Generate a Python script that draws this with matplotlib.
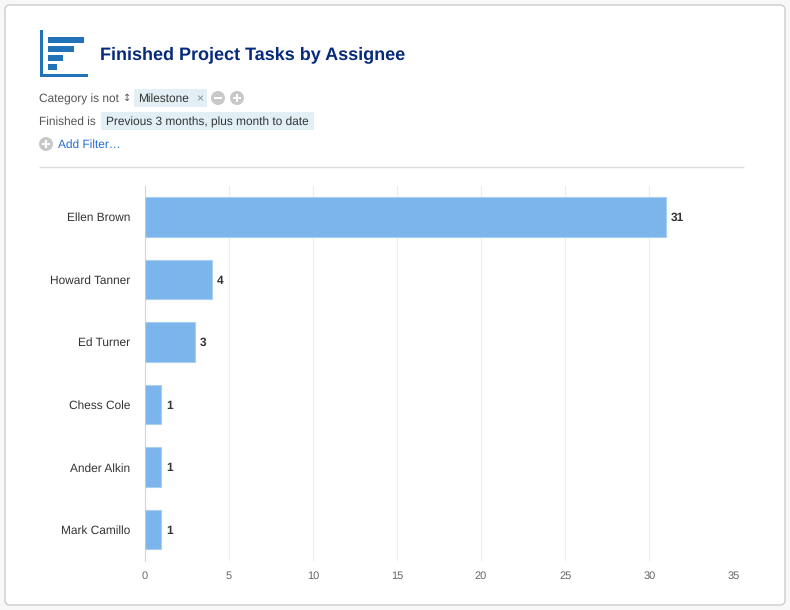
import matplotlib
matplotlib.use('Agg')
import matplotlib.pyplot as plt
from matplotlib.patches import Rectangle, FancyBboxPatch, Circle

plt.rcParams['font.family'] = ['Liberation Sans', 'DejaVu Sans']
plt.rcParams['text.hinting'] = 'no_hinting'

# data
assignees = ['Ellen Brown', 'Howard Tanner', 'Ed Turner', 'Chess Cole', 'Ander Alkin', 'Mark Camillo']
tasks = [31, 4, 3, 1, 1, 1]
x_ticks = [0, 5, 10, 15, 20, 25, 30, 35]
icon_bar_widths = [36, 26, 15, 9]

W, H = 790, 610
fig = plt.figure(figsize=(W / 100, H / 100), dpi=100, facecolor='#f8f8f8')

# -----------------------------
# page layer, in pixels
bg = fig.add_axes([0, 0, 1, 1])
bg.set_xlim(0, W)
bg.set_ylim(H, 0)
bg.axis('off')

bg.add_patch(FancyBboxPatch((5, 5), 780, 600, boxstyle='round,pad=0,rounding_size=5',
                            fc='white', ec='#cccccc', lw=1))

# icon
bg.add_patch(Rectangle((40, 30), 3, 47, fc='#2272b8', ec='none'))
bg.add_patch(Rectangle((40, 74), 48, 3, fc='#2272b8', ec='none'))
for i, w in enumerate(icon_bar_widths):
    bg.add_patch(Rectangle((48, 37 + i * 9), w, 6, fc='#2272b8', ec='none'))

bg.text(100, 55, 'Finished Project Tasks by Assignee', fontsize=13.0, fontweight='bold',
        color='#062a7c', va='center', ha='left')

# filters
filter_color = '#555555'
chip_color = '#e2f0f6'
bg.text(39, 99, 'Category is not', fontsize=8.6, color=filter_color, va='center')
bg.text(127, 98, '\u2195', fontsize=7, color=filter_color, va='center', ha='center',
        family=['DejaVu Sans'])
bg.add_patch(Rectangle((134, 89), 73, 18, fc=chip_color, ec='none'))
bg.text(138, 99, 'Milestone', fontsize=8.6, color='#333333', va='center')
bg.text(200, 99, '\u00d7', fontsize=8.6, color='#888888', va='center', ha='center')
bg.text(39, 122, 'Finished is', fontsize=8.6, color=filter_color, va='center')
bg.add_patch(Rectangle((101, 112), 213, 18, fc=chip_color, ec='none'))
bg.text(106, 122, 'Previous 3 months, plus month to date', fontsize=8.6, color='#333333', va='center')
bg.text(58, 145, 'Add Filter\u2026', fontsize=8.6, color='#1f6fd6', va='center')

# round +/- buttons
for cx, cy, sign in [(218, 98, '-'), (237, 98, '+'), (46, 144, '+')]:
    bg.add_patch(Circle((cx, cy), 7, fc='#c8c8c8', ec='none'))
    bg.add_patch(Rectangle((cx - 4, cy - 1), 8, 2, fc='white', ec='none'))
    if sign == '+':
        bg.add_patch(Rectangle((cx - 1, cy - 4), 2, 8, fc='white', ec='none'))

bg.plot([39, 744], [166.5, 166.5], color='#dcdcdc', lw=1, solid_capstyle='butt')

# -----------------------------
# chart
left, right, top, bottom = 144.5, 733.5, 185.5, 561
ax = fig.add_axes([left / W, 1 - bottom / H, (right - left) / W, (bottom - top) / H])
ax.patch.set_alpha(0)

y_pos = list(range(len(assignees)))
ax.barh(y_pos, tasks, height=0.63, color='#7cb5ec', edgecolor='#a8cff3', linewidth=0.8, zorder=3)
ax.set_xlim(0, 35)
ax.set_ylim(len(assignees) - 0.5, -0.5)

ax.set_xticks(x_ticks)
ax.set_yticks(y_pos)
ax.set_yticklabels(assignees)
ax.tick_params(axis='y', length=0, pad=10.5, labelsize=8.55, labelcolor='#333333')
ax.tick_params(axis='x', length=0, pad=7.3, labelsize=7.9, labelcolor='#666666')
ax.grid(axis='x', color='#ececec', lw=0.8, zorder=0)
for s in ['top', 'right', 'bottom']:
    ax.spines[s].set_visible(False)
ax.spines['left'].set_color('#ccd6eb')
ax.spines['left'].set_linewidth(0.8)

for y, v in zip(y_pos, tasks):
    ax.annotate(str(v), (v, y), xytext=(3.6, -0.8), textcoords='offset points', va='center', ha='left',
                fontsize=8.6, fontweight='bold', color='#333333')

fig.savefig('out.png', dpi=100, facecolor=fig.get_facecolor())
